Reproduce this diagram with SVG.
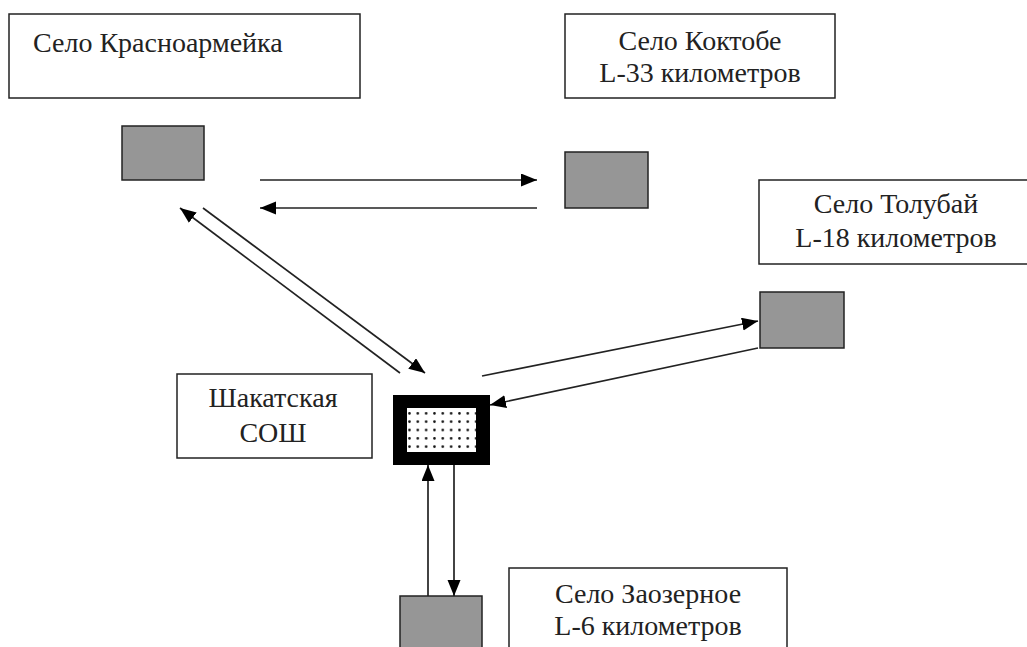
<svg xmlns="http://www.w3.org/2000/svg" width="1027" height="647" viewBox="0 0 1027 647">
<style>
.box{fill:#fff;stroke:#222;stroke-width:1.5}
.sq{fill:#969696;stroke:#222;stroke-width:1.5}
.lbl{font-family:"Liberation Serif","Times New Roman",serif;font-size:28px;fill:#222}
.c{text-anchor:middle}
.ln{stroke:#222;stroke-width:1.7;fill:none;marker-end:url(#ah)}
</style>
<defs>
<marker id="ah" markerUnits="userSpaceOnUse" markerWidth="17" markerHeight="14" refX="16" refY="6.5" orient="auto">
<path d="M0,0 L16,6.5 L0,13 z" fill="#000"/>
</marker>
<pattern id="dots" patternUnits="userSpaceOnUse" x="405.3" y="409.2" width="8.33" height="8.33">
<circle cx="4.17" cy="4.17" r="1.3" fill="#111"/>
</pattern>
</defs>
<rect width="1027" height="647" fill="#fff"/>
<g id="krasnoarmeyka">
<rect class="box" x="9" y="14" width="351" height="84"/>
<text class="lbl" x="33" y="52">Село Красноармейка</text>
<rect class="sq" x="122" y="126" width="82" height="54"/>
</g>
<g id="koktobe">
<rect class="box" x="565" y="14" width="270" height="84"/>
<text class="lbl c" x="700" y="50">Село Коктобе</text>
<text class="lbl c" x="700" y="82">L-33 километров</text>
<rect class="sq" x="565" y="152" width="83" height="56"/>
</g>
<g id="tolubay">
<rect class="box" x="759" y="180" width="272" height="84"/>
<text class="lbl c" x="896" y="213">Село Толубай</text>
<text class="lbl c" x="896" y="247">L-18 километров</text>
<rect class="sq" x="760" y="292" width="84" height="56"/>
</g>
<g id="shakat-label">
<rect class="box" x="177" y="374" width="195" height="84"/>
<text class="lbl c" x="273" y="407">Шакатская</text>
<text class="lbl c" x="273" y="442">СОШ</text>
</g>
<g id="school">
<rect x="393" y="395" width="97" height="70" fill="#000"/>
<rect x="407" y="408" width="69" height="44" fill="#fff"/>
<rect x="407" y="408" width="69" height="44" fill="url(#dots)"/>
</g>
<g id="zaozernoe">
<rect class="box" x="509" y="568" width="278" height="90"/>
<text class="lbl c" x="648" y="603">Село Заозерное</text>
<text class="lbl c" x="648" y="635">L-6 километров</text>
<rect class="sq" x="400" y="596" width="82" height="60"/>
</g>
<g id="connectors">
<line class="ln" x1="260" y1="180" x2="537" y2="180"/>
<line class="ln" x1="537" y1="208" x2="260" y2="208"/>
<line class="ln" x1="400" y1="373" x2="180" y2="208"/>
<line class="ln" x1="203" y1="208" x2="425" y2="373"/>
<line class="ln" x1="482" y1="376" x2="758" y2="321"/>
<line class="ln" x1="758" y1="348" x2="490" y2="405"/>
<line class="ln" x1="428" y1="596" x2="428" y2="465"/>
<line class="ln" x1="454" y1="465" x2="454" y2="596"/>
</g>
</svg>
